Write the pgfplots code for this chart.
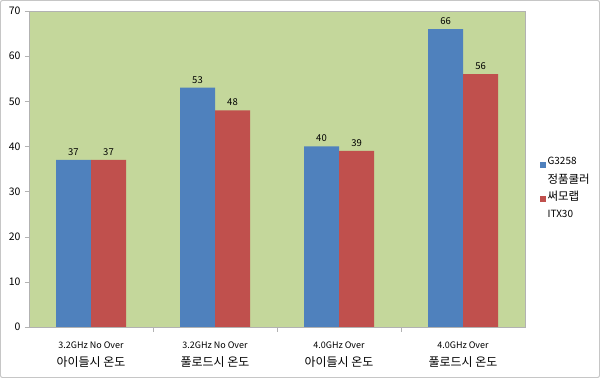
\documentclass[border=0pt]{standalone}
\usepackage{pgfplots}
\pgfplotsset{compat=1.18}
\usepackage{fontspec}
\setmainfont{Noto Sans CJK KR}
\definecolor{bblue}{HTML}{4F81BD}
\definecolor{bred}{HTML}{C0504D}
\definecolor{pgreen}{HTML}{C4D79B}
\newcommand{\lat}[1]{{\fontsize{9}{10}\selectfont #1}}
\newcommand{\kor}[1]{{\fontsize{12}{14}\selectfont #1}}
\begin{document}
\begin{tikzpicture}
\draw[gray!45, line width=1bp, rounded corners=2bp, fill=white] (0.5bp,0.5bp) rectangle (599.5bp,377.5bp);
\begin{axis}[
  at={(29bp,51bp)}, anchor=south west,
  scale only axis, width=496bp, height=316bp,
  xmin=-0.5, xmax=3.5, ymin=0, ymax=70,
  ybar=0pt, bar width=35bp,
  axis background/.style={fill=pgreen},
  axis line style={gray!60},
  xtick={0,1,2,3},
  xticklabels={{\lat{3.2GHz No Over}\\[6pt] \kor{아이들시 온도}},
               {\lat{3.2GHz No Over}\\[6pt] \kor{풀로드시 온도}},
               {\lat{4.0GHz Over}\\[6pt] \kor{아이들시 온도}},
               {\lat{4.0GHz Over}\\[6pt] \kor{풀로드시 온도}}},
  xticklabel style={align=center, font=\fontsize{9}{12}\selectfont, yshift=-7bp},
  major x tick style={draw=none},
  minor xtick={0.5,1.5,2.5},
  minor x tick style={gray!60},
  minor tick length=5bp,
  ytick={0,10,...,70},
  yticklabel style={font=\fontsize{10.5}{12}\selectfont, xshift=-1bp},
  /pgf/number format/assume math mode=true,
  major y tick style={gray!60},
  major tick length=4bp,
  tick align=outside,
  xtick pos=bottom, ytick pos=left,
  nodes near coords,
  every node near coord/.append style={font=\fontsize{9.5}{10}\selectfont, black, yshift=1bp},
  legend style={at={(rel axis cs:1.023,0.44)}, anchor=west, draw=none, fill=none,
     font=\fontsize{10}{12}\selectfont, cells={align=left, anchor=west},
     row sep=2bp},
  legend image code/.code={\fill[#1] (0bp,3bp) rectangle (6bp,9bp);},
]
\addplot[fill=bblue, draw=none] coordinates {(0,37) (1,53) (2,40) (3,66)};
\addplot[fill=bred, draw=none] coordinates {(0,37) (1,48) (2,39) (3,56)};
\legend{G3258\\[7pt]{\fontsize{11.5}{12}\selectfont 정품쿨러}, {\fontsize{11.5}{12}\selectfont 써모랩}\\[5pt]ITX30}
\end{axis}
\end{tikzpicture}
\end{document}
